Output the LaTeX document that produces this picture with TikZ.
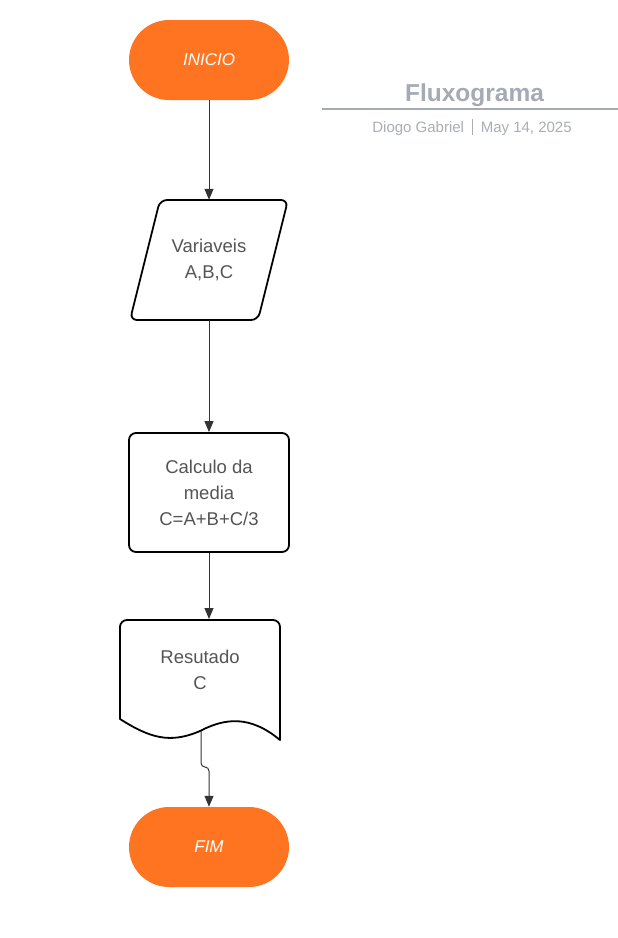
\documentclass[tikz,border=0pt]{standalone}
\usepackage{fontspec}
\setmainfont{Liberation Sans}
\usetikzlibrary{arrows.meta}
\definecolor{orng}{HTML}{FF7421}
\definecolor{txtgray}{HTML}{555555}
\definecolor{conn}{HTML}{333333}
\definecolor{titlegray}{HTML}{A5ABB5}
\definecolor{subgray}{HTML}{A9AEB6}
\begin{document}
\begin{tikzpicture}[x=1pt,y=-1pt,
  term/.style={fill=orng,draw=none,rounded corners=40pt,minimum width=160pt,minimum height=80pt,
    text=white,font=\fontsize{17}{19}\selectfont\itshape,inner sep=0pt},
  boxtext/.style={text=txtgray,font=\fontsize{18.5}{26}\selectfont,align=center,inner sep=0pt},
  shapeline/.style={draw=black,line width=1.8pt,rounded corners=7pt,line join=round},
  link/.style={draw=conn,line width=1pt,-{Triangle[length=11pt,width=9pt]}}
]
\useasboundingbox (0,0) rectangle (618,938);
\fill[white] (0,0) rectangle (618,938);

% INICIO
\node[term] (ini) at (209,60) {INICIO};

% Variaveis (parallelogram)
\path[shapeline] (160,200) -- (288,200) -- (258,320) -- (130,320) -- cycle;
\node[boxtext,minimum width=158pt,minimum height=120pt] (var) at (209,260) {Variaveis\\A,B,C};

% Calculo
\node[shapeline,boxtext,minimum width=160pt,minimum height=119pt] (calc) at (209,492.5) {Calculo da\\media\\C=A+B+C/3};

% Resultado (document)
\path[draw=black,line width=1.8pt,line join=round]
  (120,719) -- (120,626) [rounded corners=7pt] -- (120,620) -- (280,620) [sharp corners] -- (280,740)
  .. controls (250,715) and (225,718) .. (200,731)
  .. controls (170,744) and (150,738) .. (120,719) -- cycle;
\node[boxtext,minimum width=160pt,minimum height=100pt] (res) at (200,670) {Resutado\\C};
\coordinate (resout) at (201,731);

% FIM
\node[term] (fim) at (209,847) {FIM};

% connectors
\draw[link] (ini.south) -- (var.north);
\draw[link] (var.south) -- (calc.north);
\draw[link] (calc.south) -- (209,619);
\draw[link,rounded corners=4pt] (resout) |- (209,767) -- (fim.north);

% title
\node[text=titlegray,font=\fontsize{24.5}{28}\selectfont\bfseries] (title) at (474.5,95.5) {Fluxograma};
\draw[draw=titlegray,line width=2pt] (322,109) coordinate (lineL) -- (618,109) coordinate (lineR);
\node[text=subgray,font=\fontsize{15}{17}\selectfont] (sub) at (472,127.5)
  {Diogo Gabriel\hspace{8pt}\raisebox{-3pt}{\rule{0.7pt}{16pt}}\hspace{8pt}May 14, 2025};
\end{tikzpicture}
\end{document}
